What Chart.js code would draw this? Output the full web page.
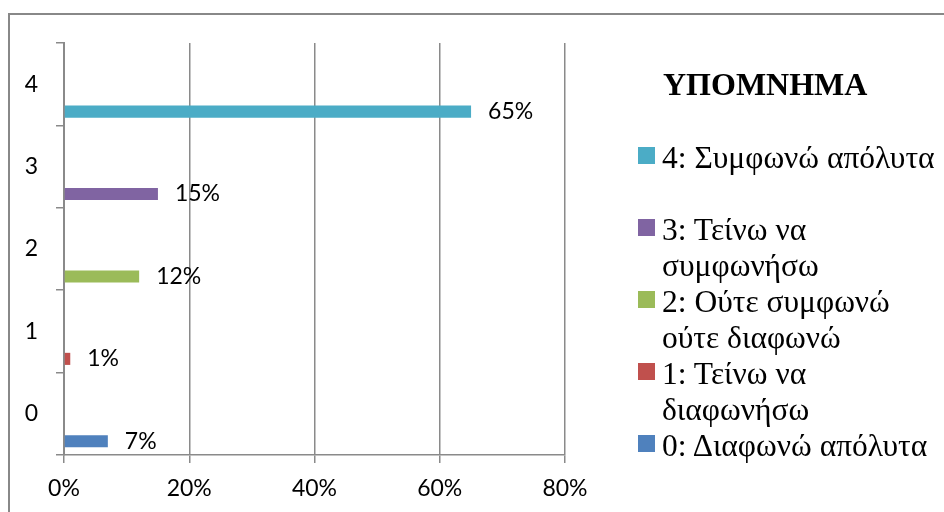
<!DOCTYPE html>
<html>
<head>
<meta charset="utf-8">
<script src="https://cdn.jsdelivr.net/npm/chart.js@4"></script>
<style>
  html, body { margin: 0; padding: 0; background: #fff; }
  #wrap { position: relative; width: 944px; height: 512px; overflow: hidden; }
  #frame { position: absolute; left: 8px; top: 13px; width: 1000px; height: 600px;
           border-left: 2px solid #888; border-top: 2px solid #888; }
  canvas { position: absolute; left: 0; top: 0; }
  #legend { position: absolute; left: 638px; top: 66px; font-family: "Liberation Serif", "Times New Roman", serif; color: #000; }
  #legend .title { font-weight: bold; font-size: 32px; line-height: 36px; margin-left: 25px; margin-bottom: 38px; }
  #legend .item { display: flex; align-items: flex-start; font-size: 31.5px; line-height: 36px; white-space: pre; }
  #legend .item.gap { margin-top: 36px; }
  #legend .box { width: 17px; height: 17px; margin-top: 7px; margin-right: 7px; flex: none; }
</style>
</head>
<body>
<div id="wrap">
  <div id="frame"></div>
  <canvas id="chart" width="944" height="512"></canvas>
  <div id="legend"></div>
</div>
<script>
const categories = ["0", "1", "2", "3", "4"];
const values = [7, 1, 12, 15, 65];
const seriesNames = [
  "0: Διαφωνώ απόλυτα",
  "1: Τείνω να\nδιαφωνήσω",
  "2: Ούτε συμφωνώ\nούτε διαφωνώ",
  "3: Τείνω να\nσυμφωνήσω",
  "4: Συμφωνώ απόλυτα"
];
const colors = ["#4F81BD", "#C0504D", "#9BBB59", "#8064A2", "#4BACC6"];
const xTicks = [0, 20, 40, 60, 80];
const legendTitle = "ΥΠΟΜΝΗΜΑ";

const axisFont = { family: "Lato, 'Liberation Sans', sans-serif", size: 23 };

// two empty stacks so the real bars sit in the lower slot of each band
const datasets = [
  { label: "", data: categories.map(() => null), stack: "a" },
  { label: "", data: categories.map(() => null), stack: "b" }
];
categories.forEach((c, i) => {
  datasets.push({
    label: seriesNames[i],
    data: categories.map((_, j) => (j === i ? values[i] : null)),
    backgroundColor: colors[i],
    stack: "r",
    isReal: true
  });
});

const valueLabels = {
  id: "valueLabels",
  afterDatasetsDraw(chart) {
    const ctx = chart.ctx;
    ctx.save();
    ctx.font = axisFont.size + "px " + axisFont.family;
    ctx.fillStyle = "#000";
    ctx.textBaseline = "middle";
    ctx.textAlign = "left";
    chart.data.datasets.forEach((ds, di) => {
      if (!ds.isReal) return;
      const meta = chart.getDatasetMeta(di);
      ds.data.forEach((v, j) => {
        if (v === null) return;
        const el = meta.data[j];
        ctx.fillText(v + "%", el.x + 17, el.y);
      });
    });
    ctx.restore();
  }
};

new Chart(document.getElementById("chart"), {
  type: "bar",
  data: { labels: categories, datasets: datasets },
  options: {
    indexAxis: "y",
    responsive: false,
    animation: false,
    categoryPercentage: 1,
    barPercentage: 0.44,
    layout: { padding: { top: 43, right: 379, left: 0, bottom: 0 } },
    plugins: { legend: { display: false }, tooltip: { enabled: false } },
    scales: {
      x: {
        min: 0,
        max: 80,
        afterBuildTicks: (s) => { s.ticks = xTicks.map((v) => ({ value: v })); },
        afterFit: (s) => { s.height = 57; },
        grid: { color: "#8a8a8a", lineWidth: 1.5, tickLength: 8, drawTicks: true },
        border: { color: "#8a8a8a", width: 1.5 },
        ticks: { font: axisFont, color: "#000", padding: 12, callback: (v) => v + "%" }
      },
      y: {
        reverse: true,
        afterFit: (s) => { s.width = 64; },
        grid: { drawOnChartArea: false, color: "#8a8a8a", lineWidth: 1.5, tickLength: 8, offset: true },
        border: { color: "#8a8a8a", width: 2 },
        ticks: { font: axisFont, color: "#000", padding: 18 }
      }
    }
  },
  plugins: [valueLabels]
});

// legend, top entry first as in the reference
const legend = document.getElementById("legend");
const t = document.createElement("div");
t.className = "title";
t.textContent = legendTitle;
legend.appendChild(t);
for (let i = categories.length - 1; i >= 0; i--) {
  const row = document.createElement("div");
  row.className = "item" + (i === categories.length - 2 ? " gap" : "");
  const box = document.createElement("div");
  box.className = "box";
  box.style.background = colors[i];
  const txt = document.createElement("div");
  txt.textContent = seriesNames[i];
  row.appendChild(box);
  row.appendChild(txt);
  legend.appendChild(row);
}
</script>
</body>
</html>
